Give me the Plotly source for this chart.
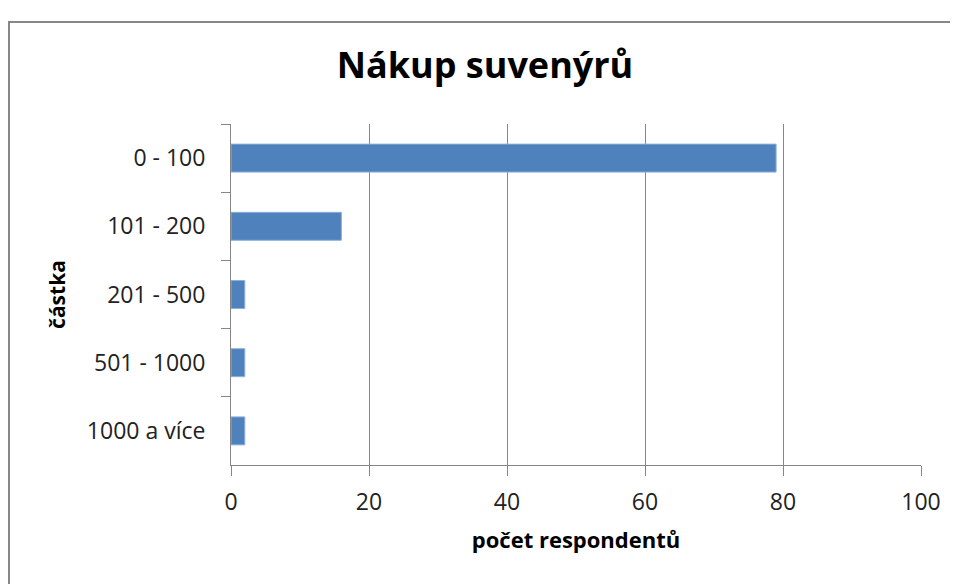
import plotly.graph_objects as go

# --------------------------------- DONNÉES ---------------------------------- #
kategorie = ["0 - 100", "101 - 200", "201 - 500", "501 - 1000", "1000 a více"]
pocet = [79, 16, 2, 2, 2]
x_ticks = [0, 20, 40, 60, 80, 100]

FONT = "Open Sans"
GRID = "#868686"

# la page décale la figure de 8 px (marge du body) -> on compense
L, R, T, B = 223, 45, 116, 127
PW, PH = 958 - L - R, 584 - T - B

fig = go.Figure()

fig.add_trace(go.Bar(
    x=pocet,
    y=kategorie,
    orientation="h",
    marker=dict(color="#4F81BD", line=dict(color="#8DB0DB", width=1)),
    width=0.41,
    hovertemplate="%{y}: %{x}<extra></extra>",
))

# Mise en forme
fig.update_layout(
    width=958,
    height=584,
    margin=dict(l=L, r=R, t=T, b=B),
    paper_bgcolor="white",
    plot_bgcolor="white",
    showlegend=False,
    font=dict(family=FONT, color="#222222"),
    title=dict(
        text="<b>Nákup suvenýrů</b>",
        font=dict(family=FONT, size=36, color="black"),
        x=(485 - 8) / 958, xanchor="center",
        y=1 - 57 / 584, yanchor="middle",
    ),
    xaxis=dict(
        range=[0, 100],
        tickvals=x_ticks,
        showgrid=True, gridcolor=GRID, gridwidth=1,
        showline=True, linecolor=GRID, linewidth=1,
        ticks="outside", ticklen=10, tickcolor=GRID,
        tickfont=dict(size=23, color="#222222"),
        ticklabelstandoff=6,
        zeroline=False,
        title=dict(text="<b>počet respondentů</b>",
                   font=dict(size=22, color="black"), standoff=17),
    ),
    yaxis=dict(
        autorange="reversed",
        showgrid=False,
        showline=True, linecolor=GRID, linewidth=1,
        ticks="outside", ticklen=9, tickcolor=GRID,
        tickson="boundaries",
        tickfont=dict(size=23, color="#222222"),
        ticklabelstandoff=20,
        title=dict(text="<b>částka</b>",
                   font=dict(size=21, color="black"), standoff=15),
    ),
    shapes=[dict(
        type="rect", xref="paper", yref="paper",
        x0=(1 - L) / PW, x1=(949 - L) / PW,
        y0=-0.6, y1=(584 - B - 14) / PH,
        line=dict(color="#878787", width=2),
        layer="below",
    )],
)

fig.write_html("out.html")
